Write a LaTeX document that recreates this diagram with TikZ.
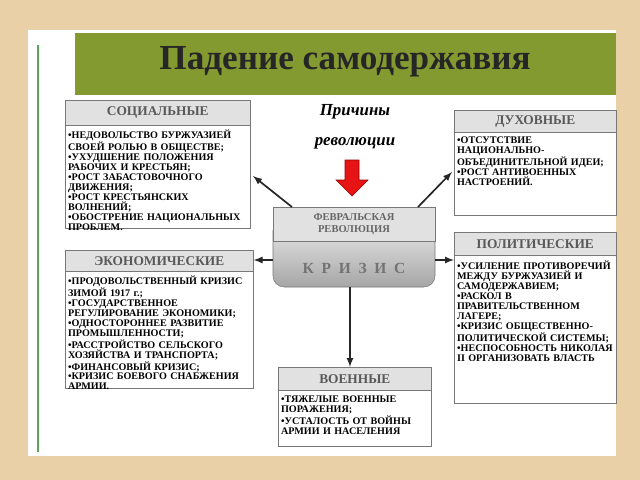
\documentclass[tikz,border=0pt]{standalone}
\usepackage{fontspec}
\setmainfont{Liberation Serif}
\usetikzlibrary{positioning}
\definecolor{wood}{RGB}{233,208,166}
\definecolor{title_green}{RGB}{131,154,48}
\definecolor{head_gray}{RGB}{225,225,225}
\definecolor{frame_gray}{RGB}{120,120,120}
\definecolor{arrow_red}{RGB}{230,20,20}

\begin{document}
\begin{tikzpicture}[x=0.025cm,y=-0.025cm,>=latex]
    \tikzstyle{head}=[draw=frame_gray, fill=head_gray, anchor=north west, inner sep=0pt, font=\bfseries\fontsize{9.5}{10}\selectfont, text=black!65]
    \tikzstyle{body}=[anchor=north west, inner sep=2pt, align=left, font=\bfseries\fontsize{7.2}{7.1}\selectfont]
    \tikzstyle{frame}=[draw=frame_gray, fill=white]
    \tikzstyle{link}=[->, very thick, black!85]

    \useasboundingbox (0,0) rectangle (640,480);
    \fill[wood] (0,0) rectangle (640,480);
    \fill[white] (28,30) rectangle (616,456);
    \draw[green!30!gray, thick] (38,45) -- (38,452);
    \fill[title_green] (75,33) rectangle (616,113);
    \node (title) at (345,62) {\bfseries\fontsize{25}{26}\selectfont\color{black!85}Падение самодержавия};
    \fill[white] (62,95) rectangle (616,452);

    % causes
    \draw[frame] (65,125) rectangle (250,228);
    \node[head, minimum width=185*0.025cm, minimum height=25*0.025cm] (soch) at (65,100) {СОЦИАЛЬНЫЕ};
    \node[body, text width=181*0.025cm] (soc) at (65,127) {•НЕДОВОЛЬСТВО БУРЖУАЗИЕЙ СВОЕЙ РОЛЬЮ В ОБЩЕСТВЕ;\\ •УХУДШЕНИЕ ПОЛОЖЕНИЯ РАБОЧИХ И КРЕСТЬЯН;\\ •РОСТ ЗАБАСТОВОЧНОГО ДВИЖЕНИЯ;\\ •РОСТ КРЕСТЬЯНСКИХ ВОЛНЕНИЙ;\\ •ОБОСТРЕНИЕ НАЦИОНАЛЬНЫХ ПРОБЛЕМ.};

    \draw[frame] (65,271) rectangle (253,388);
    \node[head, minimum width=188*0.025cm, minimum height=21*0.025cm] (ekoh) at (65,250) {ЭКОНОМИЧЕСКИЕ};
    \node[body, text width=184*0.025cm] (eko) at (65,273) {•ПРОДОВОЛЬСТВЕННЫЙ КРИЗИС ЗИМОЙ 1917 г.;\\ •ГОСУДАРСТВЕННОЕ РЕГУЛИРОВАНИЕ ЭКОНОМИКИ;\\ •ОДНОСТОРОННЕЕ РАЗВИТИЕ ПРОМЫШЛЕННОСТИ;\\ •РАССТРОЙСТВО СЕЛЬСКОГО ХОЗЯЙСТВА И ТРАНСПОРТА;\\ •ФИНАНСОВЫЙ КРИЗИС;\\ •КРИЗИС БОЕВОГО СНАБЖЕНИЯ АРМИИ.};

    \draw[frame] (454,132) rectangle (616,215);
    \node[head, minimum width=162*0.025cm, minimum height=22*0.025cm] (duhh) at (454,110) {ДУХОВНЫЕ};
    \node[body, text width=158*0.025cm] (duh) at (454,134) {•ОТСУТСТВИЕ НАЦИОНАЛЬНО-ОБЪЕДИНИТЕЛЬНОЙ ИДЕИ;\\ •РОСТ АНТИВОЕННЫХ НАСТРОЕНИЙ.};

    \draw[frame] (454,255) rectangle (616,403);
    \node[head, minimum width=162*0.025cm, minimum height=23*0.025cm] (polh) at (454,232) {ПОЛИТИЧЕСКИЕ};
    \node[body, text width=158*0.025cm] (pol) at (454,258) {•УСИЛЕНИЕ ПРОТИВОРЕЧИЙ МЕЖДУ БУРЖУАЗИЕЙ И САМОДЕРЖАВИЕМ;\\ •РАСКОЛ В ПРАВИТЕЛЬСТВЕННОМ ЛАГЕРЕ;\\ •КРИЗИС ОБЩЕСТВЕННО-ПОЛИТИЧЕСКОЙ СИСТЕМЫ;\\ •НЕСПОСОБНОСТЬ НИКОЛАЯ II ОРГАНИЗОВАТЬ ВЛАСТЬ};

    \draw[frame] (278,390) rectangle (431,446);
    \node[head, minimum width=153*0.025cm, minimum height=23*0.025cm] (voeh) at (278,367) {ВОЕННЫЕ};
    \node[body, text width=149*0.025cm] (voe) at (278,393) {•ТЯЖЕЛЫЕ ВОЕННЫЕ ПОРАЖЕНИЯ;\\ •УСТАЛОСТЬ ОТ ВОЙНЫ АРМИИ И НАСЕЛЕНИЯ};

    % centre
    \draw[frame_gray, top color=head_gray, bottom color=black!35, rounded corners=8pt] (273,230) -- (273,287) -- (435,287) -- (435,230);
    \draw[frame_gray, fill=head_gray] (273,207) rectangle (435,241);
    \node[font=\bfseries\fontsize{7.5}{9}\selectfont, text=black!60, align=center] (fev) at (354,224) {ФЕВРАЛЬСКАЯ\\РЕВОЛЮЦИЯ};
    \node[font=\bfseries\fontsize{11}{12}\selectfont, text=black!55] (kriz) at (354,268) {К\ \ Р\ \ И\ \ З\ \ И\ \ С};
    \coordinate (ctl) at (292,207);
    \coordinate (ctr) at (418,207);
    \coordinate (cl) at (273,260);
    \coordinate (cr) at (435,260);
    \coordinate (cb) at (350,287);

    \node[font=\bfseries\itshape\fontsize{12}{13}\selectfont] (pri) at (355,112) {Причины};
    \node[font=\bfseries\itshape\fontsize{12}{13}\selectfont] (rev) at (355,143) {революции};
    \fill[arrow_red, draw=red!60!black] (345,160) -- (359,160) -- (359,180) -- (368,180) -- (352,196) -- (336,180) -- (345,180) -- cycle;

    \draw[link] (ctl) -- (253,176);
    \draw[link] (ctr) -- (452,172);
    \draw[link] (cl) -- (ekoh.south east |- cl);
    \draw[link] (cr) -- (454,260);
    \draw[link] (cb) -- (voeh.north -| cb);
\end{tikzpicture}
\end{document}
